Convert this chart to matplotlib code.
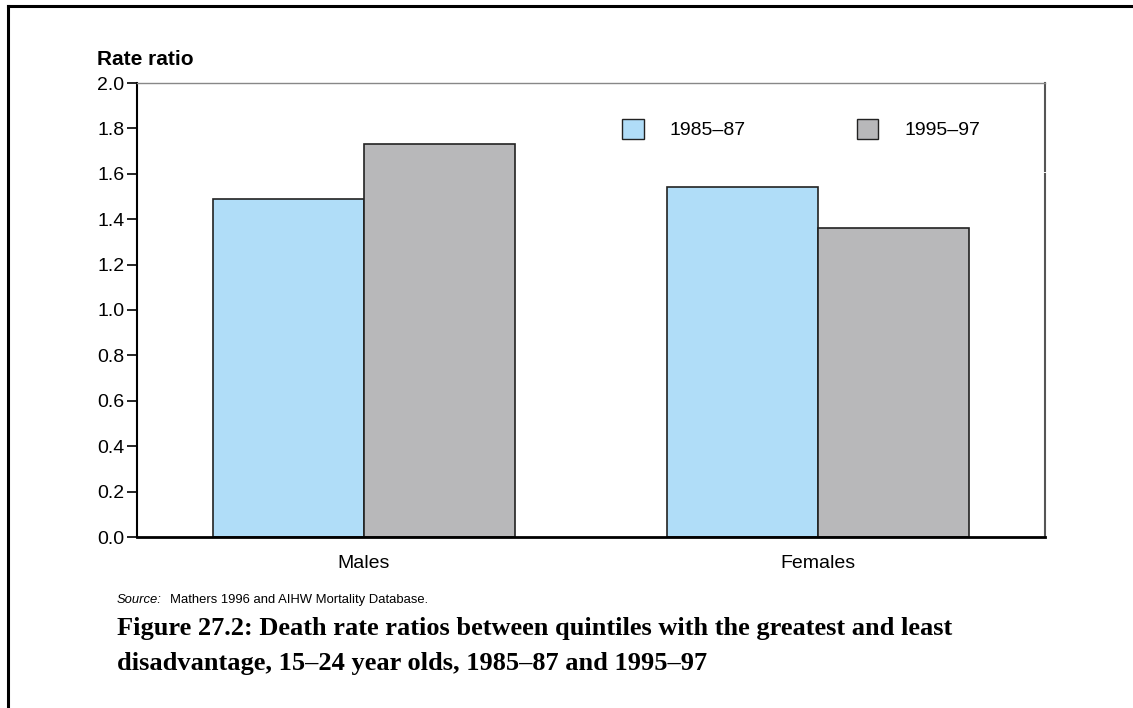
import numpy as np
import matplotlib.pyplot as plt
from matplotlib.patches import Patch
from matplotlib.lines import Line2D

# Death rate ratios, greatest vs least disadvantaged quintile
groups = ['Males', 'Females']
periods = ['1985\u201387', '1995\u201397']
rate_1985 = [1.49, 1.54]
rate_1995 = [1.73, 1.36]
colors = ['#b0ddf8', '#b8b8ba']

plt.rcParams['font.family'] = ['Liberation Sans', 'DejaVu Sans']

fig = plt.figure(figsize=(11.33, 7.08), dpi=100)
ax = fig.add_axes([137/1133, 1 - 537/708, 908/1133, 454/708])

x = np.arange(len(groups)) + 0.5
w = 1/3
ax.bar(x - w/2, rate_1985, w, color=colors[0], edgecolor='#222222', linewidth=1.2)
ax.bar(x + w/2, rate_1995, w, color=colors[1], edgecolor='#222222', linewidth=1.2)

ax.set_xlim(0, 2)
ax.set_ylim(0, 2.0)
ax.set_yticks(np.arange(0, 2.01, 0.2))
ax.set_yticklabels([f'{v:.1f}' for v in np.arange(0, 2.01, 0.2)])
ax.set_xticks(x)
ax.set_xticklabels(groups)
ax.tick_params(axis='y', direction='out', length=7, width=1.2, labelsize=14, pad=2)
ax.tick_params(axis='x', length=0, labelsize=14, pad=13)

ax.spines['left'].set_linewidth(1.5)
ax.spines['bottom'].set_linewidth(2)
ax.spines['top'].set_color('#888888')
ax.spines['top'].set_linewidth(1)
# right edge drawn in two pieces with a small break
ax.spines['right'].set_visible(False)
ax.plot([1, 1], [0, 1.600], color='#555555', lw=1.5, transform=ax.get_yaxis_transform(), clip_on=False)
ax.plot([1, 1], [1.613, 2.0], color='#555555', lw=1.5, transform=ax.get_yaxis_transform(), clip_on=False)

ax.text(-0.044, 1.03, 'Rate ratio', transform=ax.transAxes, ha='left', va='bottom',
        fontsize=15, fontweight='bold')

# legend laid out side by side
handles = [Patch(facecolor=c, edgecolor='#222222', linewidth=1.0) for c in colors]
ax.legend(handles, periods, loc='upper left', bbox_to_anchor=(0.515, 0.96),
          ncol=2, frameon=False, fontsize=14, handlelength=1.1, handleheight=1.2,
          columnspacing=5.7, handletextpad=1.35)

# source note and caption
fig.text(117/1133, 1 - 600/708, 'Source:', fontsize=9.4, style='italic', va='center')
fig.text(170/1133, 1 - 600/708, 'Mathers 1996 and AIHW Mortality Database.', fontsize=9.4, va='center')
fig.text(117/1133, 1 - 646/708,
         'Figure 27.2: Death rate ratios between quintiles with the greatest and least\n'
         'disadvantage, 15\u201324 year olds, 1985\u201387 and 1995\u201397',
         fontsize=19, fontweight='bold', family=['Liberation Serif'], va='center',
         linespacing=1.62)

# page frame
fig.add_artist(Line2D([8/1133, 8/1133], [0, 1 - 6/708], color='black', lw=2.2))
fig.add_artist(Line2D([8/1133, 1], [1 - 6/708, 1 - 6/708], color='black', lw=2.2))

fig.savefig('out.png', dpi=100)
